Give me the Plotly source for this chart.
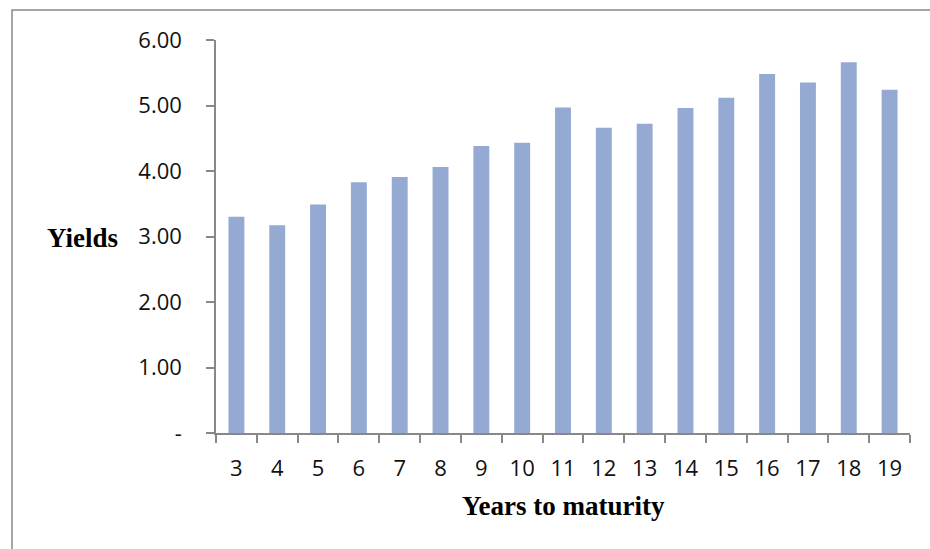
import plotly.graph_objects as go

years = ["3", "4", "5", "6", "7", "8", "9", "10", "11", "12", "13", "14", "15", "16", "17", "18", "19"]
yields = [3.30, 3.17, 3.49, 3.83, 3.91, 4.06, 4.38, 4.43, 4.97, 4.66, 4.72, 4.96, 5.12, 5.48, 5.35, 5.66, 5.24]
ytick_vals = [0, 1, 2, 3, 4, 5, 6]
ytick_text = ["-", "1.00", "2.00", "3.00", "4.00", "5.00", "6.00"]

W, H = 930, 549
L, R, T, B = 216, 20, 40, 116
pw, ph = W - L - R, H - T - B

def px_x(x):
    return (x - L) / pw

def px_y(y):
    return (T + ph - y) / ph

fig = go.Figure(go.Bar(x=years, y=yields, marker=dict(color="#95AAD2", line=dict(width=0))))

tick_font = dict(family="Open Sans, Noto Sans, sans-serif", size=22, color="#111")
fig.update_layout(
    width=W, height=H,
    margin=dict(l=L, r=R, t=T, b=B),
    paper_bgcolor="white", plot_bgcolor="white",
    showlegend=False,
    bargap=0.61,
)
fig.update_xaxes(
    type="category", showgrid=False, showline=True, linecolor="#888", linewidth=1.5,
    ticks="outside", ticklen=8, tickcolor="#888", tickwidth=1.5, tickson="boundaries",
    tickfont=tick_font, ticklabelstandoff=15,
)
fig.update_yaxes(
    range=[0, 6], tickvals=ytick_vals, ticktext=ytick_text, showgrid=False, zeroline=False,
    showline=True, linecolor="#888", linewidth=1.5,
    ticks="outside", ticklen=8, tickcolor="#888", tickwidth=1.5,
    tickfont=tick_font, ticklabelstandoff=20,
)

title_font = dict(family="Liberation Serif, Times New Roman, serif", size=27, color="black")
fig.add_annotation(text="<b>Yields</b>", xref="paper", yref="paper",
                   x=px_x(120), y=px_y(238), xanchor="right", yanchor="middle",
                   showarrow=False, font=title_font)
fig.add_annotation(text="<b>Years to maturity</b>", xref="paper", yref="paper",
                   x=0.5, y=px_y(506), xanchor="center", yanchor="middle",
                   showarrow=False, font=title_font)

fig.add_shape(type="rect", xref="paper", yref="paper",
              x0=px_x(12), x1=px_x(960),
              y0=px_y(580), y1=px_y(10),
              line=dict(color="#888", width=1.5), fillcolor="rgba(0,0,0,0)", layer="below")

fig.write_html("out.html", config={"displayModeBar": False},
               post_script="document.body.style.margin='0';document.body.style.overflow='hidden';")
